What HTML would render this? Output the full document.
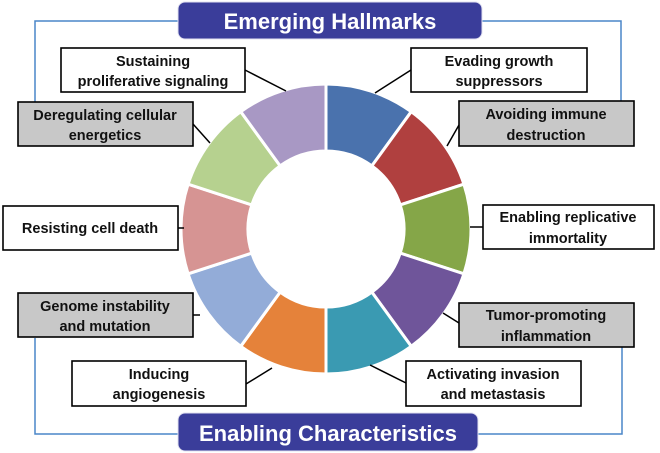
<!DOCTYPE html>
<html><head><meta charset="utf-8"><style>
html,body{margin:0;padding:0;background:#fff;}
svg{display:block;}
text{font-family:"Liberation Sans",sans-serif;font-weight:bold;}
</style></head><body>
<svg id="s" width="660" height="453" viewBox="0 0 660 453" xmlns="http://www.w3.org/2000/svg">
<g fill="none" stroke="#4a86c8" stroke-width="1.5">
<polyline points="178,21 35,21 35,102"/>
<polyline points="482,21 621,21 621,101"/>
<polyline points="35,338 35,434 178,434"/>
<polyline points="622,347 622,434 478,434"/>
</g>
<g id="donut"></g>
<g stroke="#000" stroke-width="1.5">
<line x1="245" y1="70" x2="286" y2="91"/>
<line x1="193" y1="124" x2="210" y2="143"/>
<line x1="178" y1="228" x2="184" y2="228"/>
<line x1="193" y1="315" x2="200" y2="315"/>
<line x1="246" y1="384" x2="272" y2="368"/>
<line x1="411" y1="70" x2="375" y2="93"/>
<line x1="459" y1="125" x2="447" y2="146"/>
<line x1="483" y1="227" x2="470" y2="227"/>
<line x1="459" y1="323" x2="443" y2="313"/>
<line x1="406" y1="383" x2="370" y2="365"/>
</g>
<rect x="178" y="2" width="304" height="37" rx="7" fill="#3a3d9a" stroke="#e0e0f0" stroke-width="1"/>
<text x="330" y="29" fill="#fff" font-size="22" text-anchor="middle">Emerging Hallmarks</text>
<rect x="178" y="413" width="300" height="38" rx="7" fill="#3a3d9a" stroke="#e0e0f0" stroke-width="1"/>
<text x="328" y="441" fill="#fff" font-size="22" text-anchor="middle">Enabling Characteristics</text>
<g stroke="#000" stroke-width="1.6" font-size="14.5" text-anchor="middle">
<rect x="61" y="48" width="184" height="44" fill="#fff"/>
<rect x="18" y="102" width="175" height="44" fill="#c8c8c8"/>
<rect x="3" y="206" width="175" height="44" fill="#fff"/>
<rect x="18" y="293" width="175" height="44" fill="#c8c8c8"/>
<rect x="72" y="361" width="174" height="45" fill="#fff"/>
<rect x="411" y="48" width="176" height="44" fill="#fff"/>
<rect x="459" y="101" width="175" height="45" fill="#c8c8c8"/>
<rect x="483" y="205" width="171" height="44" fill="#fff"/>
<rect x="459" y="303" width="175" height="44" fill="#c8c8c8"/>
<rect x="406" y="361" width="175" height="45" fill="#fff"/>
</g>
<g font-size="14.5" text-anchor="middle" fill="#111">
<text x="153" y="66">Sustaining</text><text x="153" y="86">proliferative signaling</text>
<text x="105" y="120">Deregulating cellular</text><text x="105" y="140">energetics</text>
<text x="90" y="233">Resisting cell death</text>
<text x="105" y="311">Genome instability</text><text x="105" y="331">and mutation</text>
<text x="159" y="379">Inducing</text><text x="159" y="399">angiogenesis</text>
<text x="499" y="66">Evading growth</text><text x="499" y="86">suppressors</text>
<text x="546" y="119">Avoiding immune</text><text x="546" y="140">destruction</text>
<text x="568" y="222">Enabling replicative</text><text x="568" y="243">immortality</text>
<text x="546" y="320">Tumor-promoting</text><text x="546" y="341">inflammation</text>
<text x="493" y="379">Activating invasion</text><text x="493" y="399">and metastasis</text>
</g>
</svg>
<script>
(function(){
var cols=["#4a72ad","#b0403f","#85a648","#6f559a","#3a9ab2","#e5823a","#93acd8","#d69493","#b6d18f","#a898c4"];
var cx=326,cy=229,R=145,r=78,g=document.getElementById("donut"),h="";
function p(a,rad){var t=(a-90)*Math.PI/180;return (cx+rad*Math.cos(t)).toFixed(2)+","+(cy+rad*Math.sin(t)).toFixed(2);}
for(var i=0;i<10;i++){var a0=i*36,a1=a0+36;
h+='<path d="M'+p(a0,R)+' A'+R+','+R+' 0 0 1 '+p(a1,R)+' L'+p(a1,r)+' A'+r+','+r+' 0 0 0 '+p(a0,r)+' Z" fill="'+cols[i]+'" stroke="#fff" stroke-width="3"/>';}
g.innerHTML=h;
})();
</script>
</body></html>
